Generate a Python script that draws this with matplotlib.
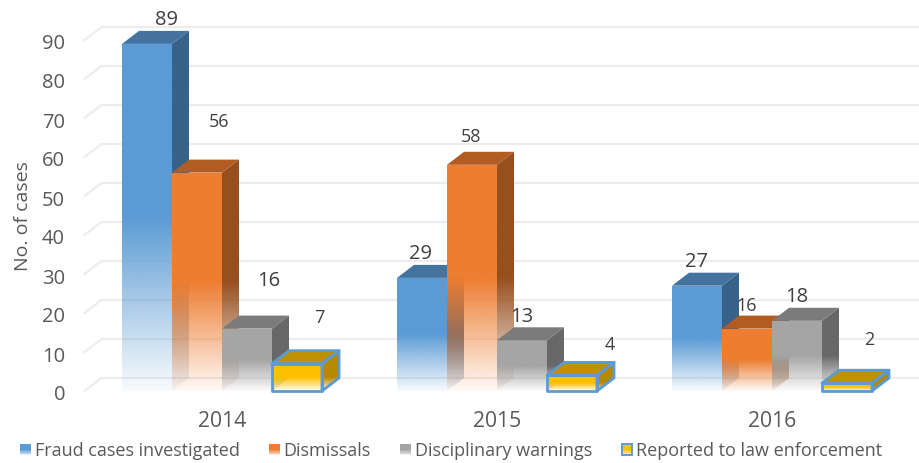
import numpy as np
import matplotlib
matplotlib.use("Agg")
import matplotlib.pyplot as plt
from matplotlib.colors import to_rgb
from matplotlib.legend_handler import HandlerBase
from matplotlib.patches import Patch, Polygon, Rectangle
from matplotlib.transforms import ScaledTranslation

plt.rcParams['font.family'] = ['Open Sans', 'DejaVu Sans']

years = ['2014', '2015', '2016']
series_names = ['Fraud cases investigated', 'Dismissals',
                'Disciplinary warnings', 'Reported to law enforcement']
fraud_cases = [89, 29, 27]
dismissals = [56, 58, 16]
warnings = [16, 13, 18]
law_enforcement = [7, 4, 2]
all_series = [fraud_cases, dismissals, warnings, law_enforcement]
y_ticks = list(range(0, 100, 10))

W, H = 920, 463
front_c = ['#5B9BD5', '#ED7D31', '#A5A5A5', '#FFC000']
top_c = ['#44739F', '#B25C24', '#7B7B7B', '#BF9000']
side_c = ['#376289', '#964F1F', '#686868', '#B58900']
edge_c = [None, None, None, '#5B9BD5']

# label placement, in pixels from the top centre of each bar's front face
label_off = [[(20, 24), (-1, 24), (0, 24)],
             [(22, 51), (-1, 28), (0, 23)],
             [(22, 48), (0, 23), (0, 24)],
             [(22, 46), (38, 30), (22, 43)]]
label_size = [[14.5, 14.5, 14.5],
              [13, 13, 13],
              [14.5, 14.5, 14.5],
              [13, 13, 13]]

fig = plt.figure(figsize=(W / 100, H / 100), dpi=100)
ax = fig.add_axes([84.5 / W, (H - 391) / H, 825 / W, 351 / H])
ax.set_facecolor('none')
for s in ax.spines.values():
    s.set_visible(False)

bw = 50 / 275
dx = 17 / 275
dy = 13 / 3.9


def gradient(color, bottom, top, ylo, yhi):
    ys = np.linspace(ylo, yhi, 256)
    frac = np.clip((ys - bottom) / max(top - bottom, 1e-6) / 0.5, 0, 1)
    rgba = np.ones((256, 1, 4))
    rgba[..., :3] = to_rgb(color)
    rgba[..., 3] = (0.04 + 0.96 * frac)[:, None]
    return rgba


def face(verts, color, bottom, top, z):
    v = np.array(verts)
    im = ax.imshow(gradient(color, bottom, top, v[:, 1].min(), v[:, 1].max()),
                   extent=[v[:, 0].min(), v[:, 0].max(), v[:, 1].min(), v[:, 1].max()],
                   origin='lower', aspect='auto', zorder=z, interpolation='bilinear')
    clip = Polygon(v, closed=True, transform=ax.transData)
    im.set_clip_path(clip)
    im.set_clip_box(fig.bbox)


# back wall gridlines and the diagonals joining them to the tick positions
for t in y_ticks:
    ax.plot([-0.5, -0.5 + dx, 2.5 + dx], [t, t + dy, t + dy], color='#EDEDED',
            lw=1.6, zorder=1, clip_on=False, solid_joinstyle='miter')

z = 2
for c in range(len(years)):
    for s, vals in enumerate(all_series):
        v = vals[c]
        x0 = c - 2 * bw + s * bw
        x1 = x0 + bw
        face([(x1, 0), (x1 + dx, dy), (x1 + dx, v + dy), (x1, v)], side_c[s], 0, v, z)
        face([(x0, 0), (x1, 0), (x1, v), (x0, v)], front_c[s], 0, v, z + 0.1)
        ax.add_patch(Polygon([(x0, v), (x1, v), (x1 + dx, v + dy), (x0 + dx, v + dy)],
                             closed=True, fc=top_c[s], ec='none', zorder=z + 0.2, clip_on=False))
        if edge_c[s]:
            for poly in ([(x0, 0), (x1, 0), (x1, v), (x0, v)],
                         [(x1, 0), (x1 + dx, dy), (x1 + dx, v + dy), (x1, v)],
                         [(x0, v), (x1, v), (x1 + dx, v + dy), (x0 + dx, v + dy)]):
                ax.add_patch(Polygon(poly, closed=True, fc='none', ec=edge_c[s], lw=2,
                                     zorder=z + 0.3, clip_on=False, joinstyle='round'))
        ax.annotate(str(v), xy=((x0 + x1) / 2, v), xytext=label_off[s][c],
                    textcoords='offset pixels', ha='center', va='center',
                    fontsize=label_size[s][c], color='#404040', zorder=50,
                    annotation_clip=False)
        z += 1

ax.set_xlim(-0.5, 2.5)
ax.set_ylim(0, 90)
ax.set_xticks(range(len(years)), years)
ax.set_yticks(y_ticks)
ax.tick_params(axis='y', length=0, pad=14, labelsize=14.5, labelcolor='#595959')
ax.tick_params(axis='x', length=0, pad=14.5, labelsize=15.2, labelcolor='#595959')
shift = ScaledTranslation(0, -2 / 100, fig.dpi_scale_trans)
for lab in ax.get_yticklabels():
    lab.set_verticalalignment('center_baseline')
    lab.set_transform(lab.get_transform() + shift)
ax.set_ylabel('No. of cases', fontsize=14, color='#595959')
ax.yaxis.set_label_coords(32 / W, (H - 216) / H, transform=fig.transFigure)


class GradientHandler(HandlerBase):
    def create_artists(self, legend, orig, xd, yd, width, height, fontsize, trans):
        color = orig.get_facecolor()[:3]
        n = 8
        arts = []
        for i in range(n):
            frac = min((i + 0.5) / n / 0.5, 1)
            arts.append(Rectangle((-xd, -yd + height * i / n), width, height / n,
                                  fc=color, alpha=0.04 + 0.96 * frac, ec='none', lw=0,
                                  transform=trans))
        ec = orig.get_edgecolor()
        if orig.get_linewidth() > 0:
            arts.append(Rectangle((-xd, -yd), width, height, fc='none', ec=ec, lw=1.4, transform=trans))
        return arts


handles = [Patch(fc=front_c[i], ec=edge_c[i] or 'none', lw=1.4 if edge_c[i] else 0)
           for i in range(4)]
leg = fig.legend(handles, series_names, loc='center left',
                 bbox_to_anchor=(20 / W, (H - 451) / H), ncols=4, frameon=False,
                 fontsize=13, labelcolor='#595959', borderpad=0, borderaxespad=0,
                 handlelength=0.6, handleheight=0.6, handletextpad=0.22,
                 columnspacing=1.62, handler_map={Patch: GradientHandler()})

fig.savefig('out.png', dpi=100)
